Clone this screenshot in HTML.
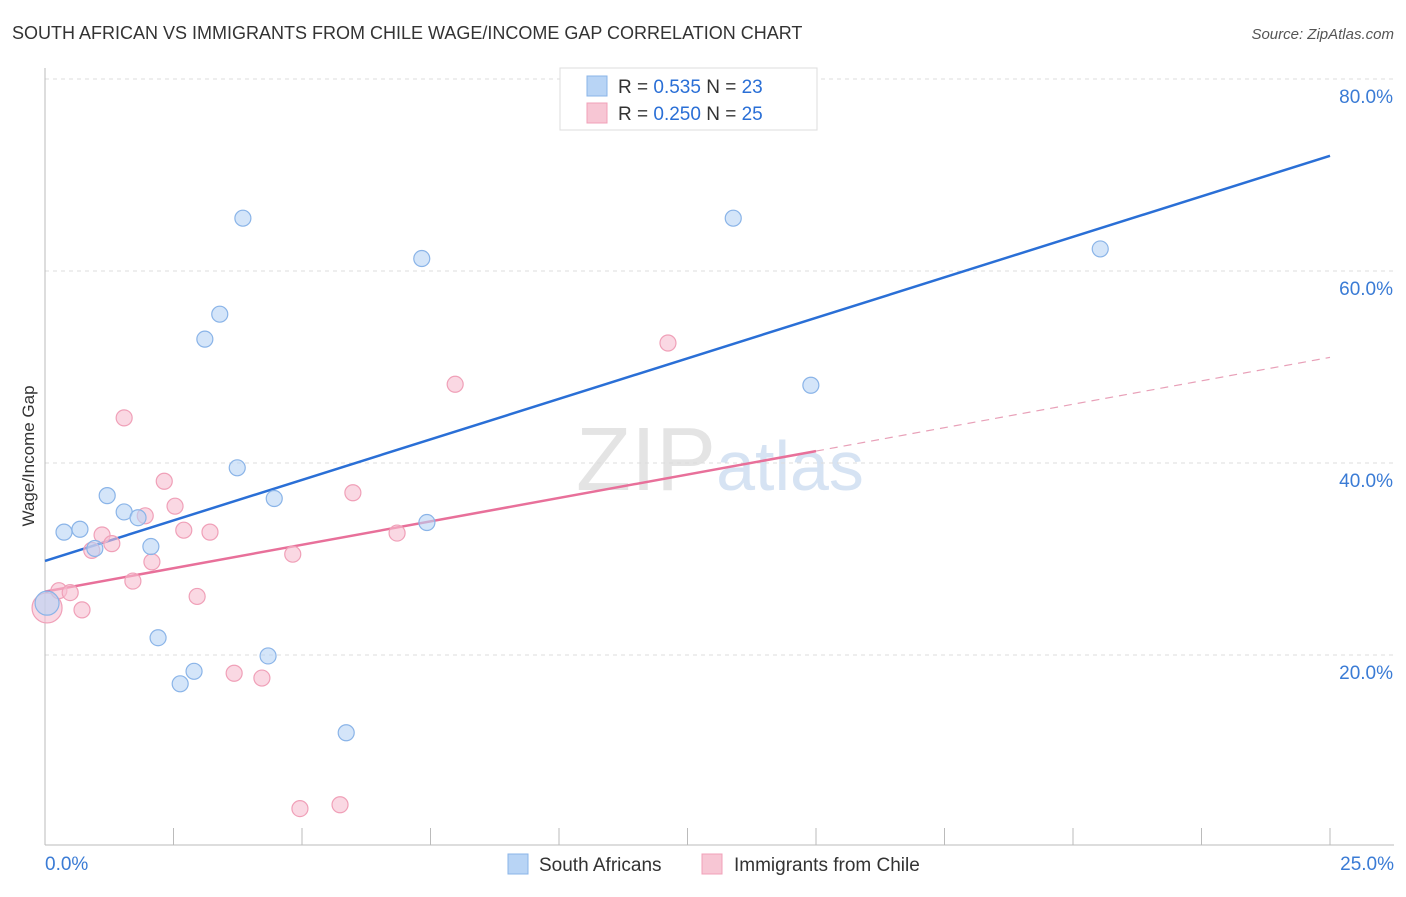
<!DOCTYPE html>
<html><head><meta charset="utf-8"><style>
body{margin:0;background:#fff;font-family:"Liberation Sans",sans-serif;}
svg text{font-family:"Liberation Sans",sans-serif;}
</style></head><body>
<svg id="chart" width="1406" height="892" viewBox="0 0 1406 892" xmlns="http://www.w3.org/2000/svg">
<text x="12" y="39" font-size="18" fill="#333">SOUTH AFRICAN VS IMMIGRANTS FROM CHILE WAGE/INCOME GAP CORRELATION CHART</text>
<text x="1394" y="39" font-size="15" fill="#555" text-anchor="end" font-style="italic">Source: ZipAtlas.com</text>
<text x="720" y="490" font-size="90" fill="#e4e4e4" text-anchor="middle" font-family="Liberation Serif">ZIP<tspan fill="#d6e3f3" font-family="Liberation Sans" font-size="70">atlas</tspan></text>
<text transform="translate(34,456) rotate(-90)" font-size="17" fill="#333" text-anchor="middle">Wage/Income Gap</text>
<g id="grid"></g><g id="axes"></g><g id="lines"></g><g id="pts"></g>
<g>
<rect x="560" y="68" width="257" height="62" fill="#fff" stroke="#ddd"/>
<rect x="587" y="76" width="20" height="20" fill="#b8d4f5" stroke="#8ab4e8"/>
<text x="618" y="93" font-size="19" fill="#333">R = <tspan fill="#2a6fd6">0.535</tspan>   N = <tspan fill="#2a6fd6">23</tspan></text>
<rect x="587" y="103" width="20" height="20" fill="#f7c6d4" stroke="#f0a0b8"/>
<text x="618" y="120" font-size="19" fill="#333">R = <tspan fill="#2a6fd6">0.250</tspan>   N = <tspan fill="#2a6fd6">25</tspan></text>
</g>
<g>
<rect x="508" y="854" width="20" height="20" fill="#b8d4f5" stroke="#8ab4e8"/>
<text x="539" y="871" font-size="19" fill="#333">South Africans</text>
<rect x="702" y="854" width="20" height="20" fill="#f7c6d4" stroke="#f0a0b8"/>
<text x="734" y="871" font-size="19" fill="#333">Immigrants from Chile</text>
</g>
</svg>
<script>
const blueX=[0.04,0.37,0.68,0.97,1.21,1.54,1.81,2.06,2.20,2.63,2.90,3.11,3.40,3.74,3.85,4.34,4.46,5.86,7.33,7.43,13.39,14.90,20.53];
const blueY=[25.4,32.8,33.1,31.1,36.6,34.9,34.3,31.3,21.8,17.0,18.3,52.9,55.5,39.5,65.5,19.9,36.3,11.9,61.3,33.8,65.5,48.1,62.3];
const pinkX=[0.04,0.27,0.49,0.72,0.91,1.11,1.30,1.54,1.71,1.95,2.08,2.32,2.53,2.70,2.96,3.21,3.68,4.22,4.82,4.96,5.74,5.99,6.85,7.98,12.12];
const pinkY=[24.9,26.7,26.5,24.7,30.9,32.5,31.6,44.7,27.7,34.5,29.7,38.1,35.5,33.0,26.1,32.8,18.1,17.6,30.5,4.0,4.4,36.9,32.7,48.2,52.5];
const blueTrend=[29.8,72.0];
const pinkTrend=[26.6,51.0];
const pinkSolidEnd=15.0;
const yTicks=[20,40,60,80];
const xTickLabels=["0.0%","25.0%"];
const NS="http://www.w3.org/2000/svg";
const sx=v=>45+v/25*1285, sy=v=>847-v*9.6;
function mk(parent,tag,attrs){const e=document.createElementNS(NS,tag);for(const k in attrs)e.setAttribute(k,attrs[k]);document.getElementById(parent).appendChild(e);return e;}
yTicks.forEach(t=>{
 const l=mk('grid','line',{x1:45,x2:1394,y1:sy(t),y2:sy(t),stroke:'#ddd','stroke-dasharray':'4,4'});
 
 
 const tx=mk('grid','text',{x:1393,y:sy(t)+24,'font-size':19,fill:'#3a7bd5','text-anchor':'end'});
 tx.textContent=t.toFixed(1)+'%';
 
 
});
const xa=mk('axes','line',{x1:45,x2:1394,y1:845,y2:845,stroke:'#bbb'});


const ya=mk('axes','line',{x1:45,x2:45,y1:68,y2:845,stroke:'#bbb'});


for(let i=0;i<=10;i++){
 const t=mk('axes','line',{x1:sx(i*2.5),x2:sx(i*2.5),y1:828,y2:845,stroke:'#bbb'});
 
 
}
[[0,'start',45],[25,'end',1394]].forEach((d,i)=>{
 const tx=mk('axes','text',{x:d[2],y:870,'font-size':19,fill:'#3a7bd5','text-anchor':d[1]});
 tx.textContent=xTickLabels[i];
 
 
});
const bl=mk('lines','line',{x1:sx(0),y1:sy(blueTrend[0]),x2:sx(25),y2:sy(blueTrend[1]),stroke:'#2a6fd6','stroke-width':2.5});


const pm=pinkTrend[0]+(pinkTrend[1]-pinkTrend[0])*pinkSolidEnd/25;
const pl=mk('lines','line',{x1:sx(0),y1:sy(pinkTrend[0]),x2:sx(pinkSolidEnd),y2:sy(pm),stroke:'#e8709a','stroke-width':2.5});


const pd=mk('lines','line',{x1:sx(pinkSolidEnd),y1:sy(pm),x2:sx(25),y2:sy(pinkTrend[1]),stroke:'#e8a0b8','stroke-width':1.2,'stroke-dasharray':'8,6'});


pinkX.forEach((x,i)=>{
 const c=mk('pts','circle',{cx:sx(x),cy:sy(pinkY[i]),r:i==0?15:8,fill:'rgba(247,190,208,0.6)',stroke:'#f0a0b8','stroke-width':1.2});
 
 
});
blueX.forEach((x,i)=>{
 const c=mk('pts','circle',{cx:sx(x),cy:sy(blueY[i]),r:i==0?12:8,fill:'rgba(184,212,245,0.6)',stroke:'#8ab4e8','stroke-width':1.2});
 
 
});
</script>
</body></html>
